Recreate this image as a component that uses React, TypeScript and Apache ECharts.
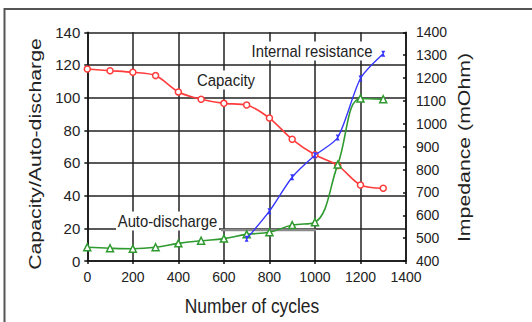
import React, { useEffect, useRef } from "react";
import * as echarts from "echarts";

const cycles = [0, 100, 200, 300, 400, 500, 600, 700, 800, 900, 1000, 1100, 1200, 1300];
const capacity = [117.5, 116.5, 115.5, 113.5, 103.5, 99, 96.5, 95.5, 87.5, 74.5, 65, 58.5, 46.5, 44.5];
const autoDischarge = [8.4, 7.8, 7.5, 8.4, 10.8, 12.4, 13.7, 16.3, 17.6, 22, 23.7, 59, 99.5, 99];
const resistanceCycles = [700, 800, 900, 1000, 1100, 1200, 1300];
const resistance = [497, 618, 766, 862, 940, 1198, 1306];

const xTicks = { min: 0, max: 1400, interval: 200 };
const leftTicks = { min: 0, max: 140, interval: 20 };
const rightTicks = { min: 400, max: 1400, interval: 100 };

const textFont = "'Liberation Sans', Arial, sans-serif";
const plain = (v: number) => String(v);

export default function App() {
  const ref = useRef<HTMLDivElement>(null);
  useEffect(() => {
    document.body.style.margin = "0";
    const chart = echarts.init(ref.current!, null, { renderer: "svg" });
    const gridColor = "#222";
    chart.setOption({
      animation: false,
      backgroundColor: "#fff",
      grid: { left: 87.3, right: 126, top: 32.3, bottom: 61, containLabel: false },
      xAxis: {
        type: "value",
        ...xTicks,
        axisLine: { show: true, lineStyle: { color: "#111", width: 1.5 } },
        axisTick: { show: true, length: 3, lineStyle: { color: "#111", width: 1.5 } },
        axisLabel: { margin: 9, color: "#222", fontSize: 14, fontFamily: textFont, formatter: plain },
        splitLine: { show: true, lineStyle: { color: gridColor, width: 1.5 } },
      },
      yAxis: [
        {
          type: "value",
          ...leftTicks,
          position: "left",
          axisLine: { show: true, lineStyle: { color: "#111", width: 1.5 } },
          axisTick: { show: true, length: 3, lineStyle: { color: "#111", width: 1.5 } },
          axisLabel: { margin: 7, color: "#222", fontSize: 15, fontFamily: textFont, formatter: plain },
          splitLine: { show: true, lineStyle: { color: gridColor, width: 1.5 } },
        },
        {
          type: "value",
          ...rightTicks,
          position: "right",
          axisLine: { show: true, lineStyle: { color: "#111", width: 1.5 } },
          axisTick: { show: true, inside: true, length: 3, lineStyle: { color: "#111", width: 1.5 } },
          axisLabel: { margin: 10, color: "#222", fontSize: 14, fontFamily: textFont, formatter: plain },
          splitLine: { show: false },
        },
      ],
      series: [
        {
          name: "Capacity",
          type: "line",
          yAxisIndex: 0,
          data: cycles.map((c, i) => [c, capacity[i]]),
          smooth: 0.3,
          symbol: "circle",
          symbolSize: 6,
          itemStyle: { color: "#fff", borderColor: "#ff3b3b", borderWidth: 1.5 },
          lineStyle: { color: "#ff3b3b", width: 1.6 },
          z: 3,
        },
        {
          name: "Auto-discharge",
          type: "line",
          yAxisIndex: 0,
          data: cycles.map((c, i) => [c, autoDischarge[i]]),
          smooth: 0.4,
          symbol: "triangle",
          symbolSize: 7,
          itemStyle: { color: "#fff", borderColor: "#2f9a2f", borderWidth: 1.5 },
          lineStyle: { color: "#2f9a2f", width: 1.6 },
          z: 4,
        },
        {
          name: "Internal resistance",
          type: "line",
          yAxisIndex: 1,
          data: resistanceCycles.map((c, i) => [c, resistance[i]]),
          smooth: 0.25,
          symbol: "path://M0,0 L10,0 L6,5 L10,10 L0,10 L4,5 Z",
          symbolSize: [4, 6],
          itemStyle: { color: "#3535ff" },
          lineStyle: { color: "#3535ff", width: 1.4 },
          z: 5,
        },
      ],
      graphic: [
        { type: "line", shape: { x1: 4, y1: 9, x2: 532, y2: 9 }, style: { stroke: "#555", lineWidth: 2 }, z: 20 },
        { type: "line", shape: { x1: 4.5, y1: 8, x2: 4.5, y2: 322 }, style: { stroke: "#555", lineWidth: 2 }, z: 20 },
        { type: "line", shape: { x1: 221, y1: 230, x2: 316, y2: 230 }, style: { stroke: "#8a8a8a", lineWidth: 2.5 }, z: 1 },
        {
          type: "text", x: 35, y: 154, rotation: Math.PI / 2, scaleX: 1.33, z: 20,
          style: { text: "Capacity/Auto-discharge", font: `16px ${textFont}`, fill: "#222", textAlign: "center", textVerticalAlign: "middle" },
        },
        {
          type: "text", x: 464, y: 147.5, rotation: Math.PI / 2, scaleX: 1.33, z: 20,
          style: { text: "Impedance (mOhm)", font: `16px ${textFont}`, fill: "#222", textAlign: "center", textVerticalAlign: "middle" },
        },
        {
          type: "text", x: 252, y: 306, scaleX: 0.83, z: 20,
          style: { text: "Number of cycles", font: `21px ${textFont}`, fill: "#222", textAlign: "center", textVerticalAlign: "middle" },
        },
        {
          type: "text", x: 226, y: 80, scaleX: 0.88, z: 20,
          style: { text: "Capacity", font: `17px ${textFont}`, fill: "#222", textAlign: "center", textVerticalAlign: "middle", backgroundColor: "#fff", padding: [1, 3] },
        },
        {
          type: "text", x: 312, y: 51, scaleX: 0.87, z: 20,
          style: { text: "Internal resistance", font: `17px ${textFont}`, fill: "#222", textAlign: "center", textVerticalAlign: "middle", backgroundColor: "#fff", padding: [1, 3] },
        },
        {
          type: "text", x: 167.5, y: 221, scaleX: 0.87, z: 20,
          style: { text: "Auto-discharge", font: `17px ${textFont}`, fill: "#222", textAlign: "center", textVerticalAlign: "middle", backgroundColor: "#fff", padding: [1, 2] },
        },
      ],
    });
    return () => chart.dispose();
  }, []);
  return <div ref={ref} style={{ width: 532, height: 322, position: "fixed", left: 0, top: 0 }} />;
}
